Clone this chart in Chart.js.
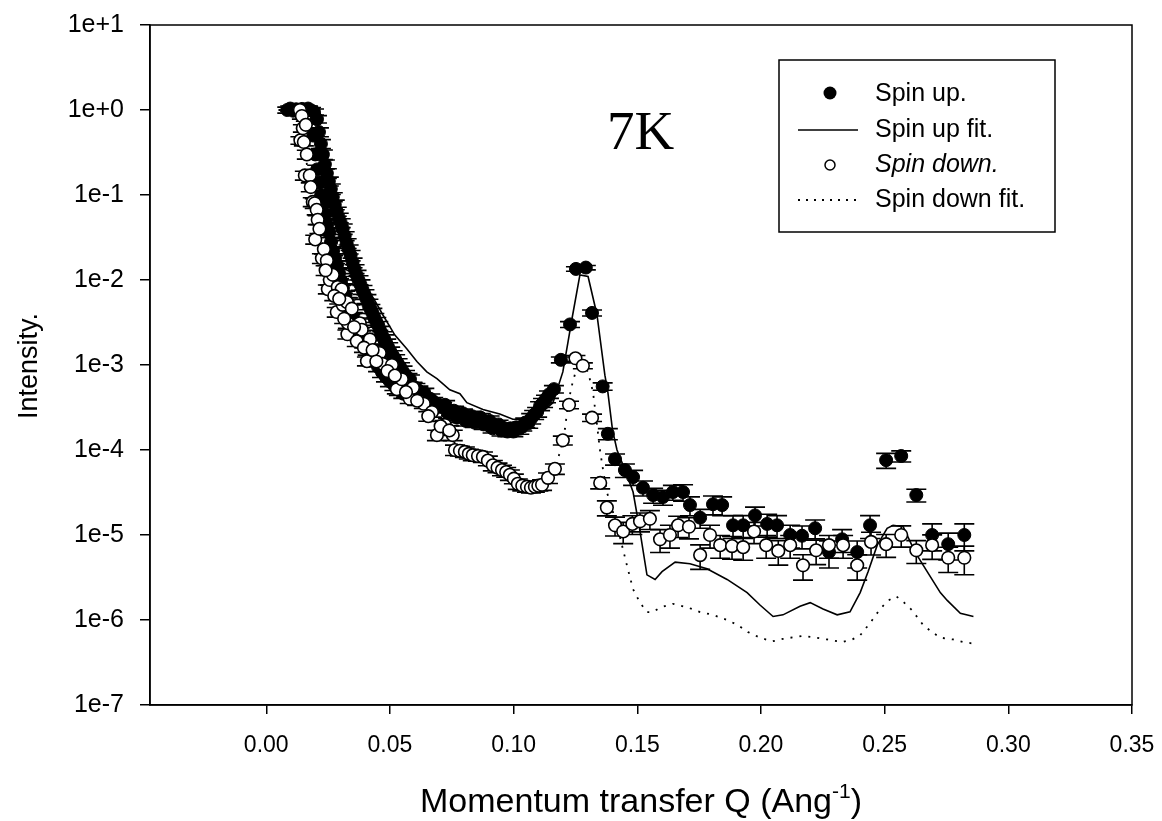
<!DOCTYPE html>
<html>
<head>
<meta charset="utf-8">
<script src="https://cdn.jsdelivr.net/npm/chart.js@4.4.1/dist/chart.umd.min.js"></script>
<style>
  html, body { margin: 0; padding: 0; background: #fff; }
  #wrap { width: 1162px; height: 821px; }
</style>
</head>
<body>
<div id="wrap"><canvas id="reflChart" width="1162" height="821"></canvas></div>
<script>
// axis ticks
const xTicks = [0, 0.05, 0.10, 0.15, 0.20, 0.25, 0.30, 0.35];
const yTicks = [1e1, 1e0, 1e-1, 1e-2, 1e-3, 1e-4, 1e-5, 1e-6, 1e-7];

// Spin up (filled circles): Q, intensity, relative error
const upQ = [
  0.0085, 0.0097, 0.0109, 0.0121, 0.0133, 0.0145, 0.0157, 0.0169, 0.0181, 0.0193,
  0.0205, 0.0213, 0.0221, 0.0229, 0.0237, 0.0245, 0.0253, 0.0261, 0.0269, 0.0277,
  0.0285, 0.0293, 0.0301, 0.0309, 0.0317, 0.0325, 0.0333, 0.0341, 0.0349, 0.0357,
  0.0365, 0.0373, 0.0381, 0.0389, 0.0397, 0.0405, 0.0413, 0.0421, 0.0429, 0.0437,
  0.0445, 0.0453, 0.0461, 0.0469, 0.0477, 0.0485, 0.0493, 0.0501, 0.0511, 0.0521,
  0.0531, 0.0541, 0.0551, 0.0561, 0.0571, 0.0581, 0.0591, 0.0603, 0.0615, 0.0627,
  0.0639, 0.0651, 0.0663, 0.0675, 0.0687, 0.0699, 0.0711, 0.0723, 0.0735, 0.0747,
  0.0759, 0.0771, 0.0783, 0.0795, 0.0807, 0.0819, 0.0831, 0.0843, 0.0855, 0.0867,
  0.0879, 0.0891, 0.0903, 0.0915, 0.0927, 0.0939, 0.0951, 0.0963, 0.0975, 0.0987,
  0.0999, 0.1011, 0.1023, 0.1035, 0.1047, 0.1059, 0.1071, 0.1083, 0.1095, 0.1107,
  0.1119, 0.1131, 0.1143, 0.1163, 0.1191, 0.1228, 0.1252, 0.1292, 0.1317, 0.1360,
  0.1381, 0.1410, 0.1450, 0.1483, 0.1523, 0.1564, 0.1604, 0.1644, 0.1685, 0.1713,
  0.1754, 0.1806, 0.1843, 0.1887, 0.1928, 0.1976, 0.2025, 0.2065, 0.2118, 0.2166,
  0.2219, 0.2275, 0.2328, 0.2389, 0.2441, 0.2506, 0.2567, 0.2628, 0.2692, 0.2757,
  0.2822,
  // left part of the dense band
  0.0190, 0.0198, 0.0206, 0.0214, 0.0222, 0.0230, 0.0238, 0.0246, 0.0254, 0.0262,
  0.0270, 0.0278, 0.0286, 0.0294, 0.0302, 0.0310, 0.0320, 0.0330, 0.0340, 0.0350,
  0.0360, 0.0372, 0.0384, 0.0396, 0.0410, 0.0424, 0.0438, 0.0452, 0.0468, 0.0484,
  0.0500, 0.0518, 0.0536, 0.0554
];
const upI = [
  1.00, 1.04, 0.98, 1.02, 0.97, 1.03, 1.00, 1.04, 0.99, 0.95,
  0.78, 0.55, 0.40, 0.30, 0.23, 0.18, 0.145, 0.118, 0.095, 0.077,
  0.064, 0.054, 0.047, 0.040, 0.033, 0.027, 0.023, 0.0195, 0.016, 0.0135,
  0.0115, 0.0100, 0.0088, 0.0077, 0.0068, 0.0060, 0.0052, 0.0046, 0.0041, 0.0036,
  0.0032, 0.0029, 0.0025, 0.0022, 0.0020, 0.0018, 0.0016, 0.00145, 0.0013, 0.00118,
  0.00105, 0.00095, 0.00085, 0.00077, 0.00070, 0.00068, 0.00055, 0.00054, 0.00050, 0.00047,
  0.00047, 0.00038, 0.00040, 0.00037, 0.00032, 0.00034, 0.00032, 0.00034, 0.00027, 0.00029,
  0.00029, 0.00024, 0.00026, 0.00027, 0.00022, 0.00024, 0.00025, 0.00021, 0.00022, 0.00024,
  0.00020, 0.00021, 0.00022, 0.00018, 0.00019, 0.00020, 0.00017, 0.00018, 0.000165, 0.00018,
  0.000165, 0.000185, 0.000178, 0.00019, 0.00021, 0.000205, 0.000235, 0.00026, 0.00028, 0.00033,
  0.00036, 0.00040, 0.00045, 0.00052, 0.00115, 0.0030, 0.0135, 0.0140, 0.0041, 0.00056,
  0.000155, 7.8e-5, 5.8e-5, 4.8e-5, 3.6e-5, 2.95e-5, 2.8e-5, 3.2e-5, 3.2e-5, 2.25e-5,
  1.6e-5, 2.3e-5, 2.25e-5, 1.3e-5, 1.3e-5, 1.7e-5, 1.35e-5, 1.3e-5, 1.0e-5, 9.8e-6,
  1.2e-5, 6.3e-6, 8.9e-6, 6.3e-6, 1.3e-5, 7.6e-5, 8.5e-5, 2.95e-5, 1.0e-5, 7.8e-6,
  1.0e-5,
  0.50, 0.30, 0.20, 0.14, 0.10, 0.075, 0.058, 0.045, 0.036, 0.028,
  0.022, 0.018, 0.015, 0.012, 0.0098, 0.0080, 0.0066, 0.0054, 0.0045, 0.0037,
  0.0031, 0.0026, 0.0022, 0.0018, 0.0015, 0.0013, 0.0011, 0.00095, 0.00082, 0.00072,
  0.00064, 0.00057, 0.00051, 0.00046
];
const upErr = [
  0.08, 0.07, 0.08, 0.06, 0.08, 0.07, 0.08, 0.07, 0.08, 0.08,
  0.10, 0.12, 0.12, 0.13, 0.12, 0.13, 0.12, 0.14, 0.12, 0.13,
  0.12, 0.13, 0.12, 0.14, 0.12, 0.13, 0.12, 0.14, 0.13, 0.12,
  0.13, 0.12, 0.14, 0.12, 0.13, 0.12, 0.14, 0.12, 0.13, 0.12,
  0.13, 0.12, 0.14, 0.12, 0.13, 0.12, 0.14, 0.12, 0.13, 0.12,
  0.13, 0.12, 0.14, 0.12, 0.13, 0.12, 0.14, 0.12, 0.13, 0.12,
  0.13, 0.12, 0.14, 0.12, 0.13, 0.12, 0.14, 0.12, 0.13, 0.12,
  0.13, 0.12, 0.14, 0.12, 0.13, 0.12, 0.14, 0.12, 0.13, 0.12,
  0.13, 0.12, 0.14, 0.12, 0.13, 0.12, 0.14, 0.12, 0.13, 0.12,
  0.13, 0.12, 0.14, 0.12, 0.13, 0.12, 0.14, 0.12, 0.13, 0.12,
  0.12, 0.10, 0.10, 0.10, 0.08, 0.08, 0.06, 0.06, 0.08, 0.10,
  0.15, 0.15, 0.18, 0.20, 0.20, 0.20, 0.20, 0.20, 0.22, 0.25,
  0.25, 0.25, 0.25, 0.30, 0.30, 0.25, 0.30, 0.30, 0.30, 0.30,
  0.25, 0.35, 0.30, 0.35, 0.30, 0.20, 0.15, 0.17, 0.35, 0.35,
  0.35,
  0.10, 0.12, 0.12, 0.13, 0.12, 0.13, 0.12, 0.14, 0.12, 0.13,
  0.12, 0.13, 0.12, 0.14, 0.12, 0.13, 0.12, 0.14, 0.13, 0.12,
  0.13, 0.12, 0.14, 0.12, 0.13, 0.12, 0.14, 0.12, 0.13, 0.12,
  0.13, 0.12, 0.14, 0.12
];

// Spin down (open circles)
const downQ = [
  0.0136, 0.0138, 0.0144, 0.0148, 0.0152, 0.0156, 0.0160, 0.0164, 0.0176, 0.0180,
  0.0188, 0.0196, 0.0198, 0.0204, 0.0208, 0.0225, 0.0233, 0.0245, 0.0249, 0.0257,
  0.0269, 0.0285, 0.0289, 0.0305, 0.0309, 0.0326, 0.0328, 0.0330, 0.0346, 0.0366,
  0.0378, 0.0386, 0.0407, 0.0415, 0.0419, 0.0459, 0.0471, 0.0508, 0.0528, 0.0548,
  0.0580, 0.0593, 0.0637, 0.0670, 0.0690, 0.0722, 0.0754, 0.0763, 0.0783, 0.0803,
  0.0819, 0.0835, 0.0856, 0.0876, 0.0896, 0.0916, 0.0935, 0.0953, 0.0970, 0.0985,
  0.1001, 0.1017, 0.1035, 0.1054, 0.1070, 0.1086, 0.1100, 0.1115, 0.1139, 0.1167,
  0.1199, 0.1224, 0.1250, 0.1280, 0.1317, 0.1350, 0.1377, 0.1410, 0.1443, 0.1480,
  0.1511, 0.1551, 0.1592, 0.1632, 0.1665, 0.1709, 0.1754, 0.1794, 0.1835, 0.1883,
  0.1928, 0.1972, 0.2021, 0.2070, 0.2118, 0.2170, 0.2223, 0.2275, 0.2332, 0.2389,
  0.2445, 0.2506, 0.2567, 0.2628, 0.2692, 0.2757, 0.2822,
  // more circles in the low-Q band
  0.0215, 0.0240, 0.0275, 0.0295, 0.0315, 0.0355, 0.0395, 0.0430, 0.0445, 0.0490,
  0.0520, 0.0565, 0.0610, 0.0655, 0.0705, 0.0740
];
const downI = [
  1.00, 0.44, 0.85, 0.61, 0.42, 0.17, 0.67, 0.30, 0.17, 0.124,
  0.083, 0.080, 0.030, 0.067, 0.051, 0.018, 0.023, 0.017, 0.0078, 0.010,
  0.0115, 0.0042, 0.0083, 0.0078, 0.0051, 0.0055, 0.0023, 0.0031, 0.0046, 0.0019,
  0.0031, 0.0026, 0.00111, 0.00197, 0.0020, 0.00138, 0.00103, 0.0010, 0.00052, 0.00068,
  0.00040, 0.00054, 0.00035, 0.00028, 0.00015, 0.000197, 0.00015, 1.0e-4, 9.8e-5, 9.5e-5,
  9.0e-5, 8.7e-5, 8.5e-5, 8.3e-5, 7.5e-5, 6.6e-5, 6.2e-5, 5.8e-5, 5.5e-5, 5.1e-5,
  4.6e-5, 4.0e-5, 3.8e-5, 3.7e-5, 3.6e-5, 3.7e-5, 3.8e-5, 3.9e-5, 4.7e-5, 6.0e-5,
  1.3e-4, 3.4e-4, 1.2e-3, 9.8e-4, 2.4e-4, 4.1e-5, 2.1e-5, 1.3e-5, 1.1e-5, 1.35e-5,
  1.45e-5, 1.55e-5, 8.9e-6, 1.0e-5, 1.3e-5, 1.25e-5, 5.8e-6, 1.0e-5, 7.6e-6, 7.4e-6,
  7.2e-6, 1.1e-5, 7.6e-6, 6.5e-6, 7.6e-6, 4.4e-6, 6.6e-6, 7.6e-6, 7.6e-6, 4.4e-6,
  8.3e-6, 7.8e-6, 1.0e-5, 6.6e-6, 7.6e-6, 5.4e-6, 5.4e-6,
  0.040, 0.013, 0.0065, 0.0060, 0.0035, 0.0028, 0.0016, 0.0015, 0.0011, 0.00085,
  0.00075, 0.00048, 0.00038, 0.00025, 0.00019, 0.00017
];
const downErr = [
  0.08, 0.10, 0.08, 0.10, 0.10, 0.12, 0.10, 0.12, 0.12, 0.12,
  0.12, 0.13, 0.12, 0.13, 0.12, 0.13, 0.12, 0.13, 0.12, 0.13,
  0.12, 0.13, 0.12, 0.13, 0.12, 0.13, 0.12, 0.13, 0.12, 0.13,
  0.12, 0.13, 0.12, 0.13, 0.12, 0.13, 0.12, 0.13, 0.12, 0.13,
  0.12, 0.13, 0.12, 0.13, 0.14, 0.13, 0.14, 0.14, 0.13, 0.14,
  0.13, 0.14, 0.13, 0.14, 0.13, 0.14, 0.13, 0.14, 0.13, 0.14,
  0.13, 0.14, 0.13, 0.14, 0.13, 0.14, 0.13, 0.14, 0.14, 0.14,
  0.12, 0.10, 0.08, 0.08, 0.10, 0.15, 0.20, 0.25, 0.28, 0.25,
  0.25, 0.25, 0.30, 0.30, 0.28, 0.28, 0.32, 0.30, 0.30, 0.30,
  0.30, 0.28, 0.30, 0.32, 0.30, 0.33, 0.32, 0.30, 0.30, 0.33,
  0.30, 0.30, 0.28, 0.30, 0.32, 0.33, 0.37,
  0.12, 0.13, 0.12, 0.13, 0.12, 0.13, 0.12, 0.13, 0.12, 0.13,
  0.12, 0.13, 0.12, 0.13, 0.14, 0.13
];

// Spin up fit (solid line)
const upFitQ = [
  0.0050, 0.0100, 0.0150, 0.0190, 0.0205, 0.0220, 0.0240, 0.0260, 0.0280, 0.0300,
  0.0320, 0.0340, 0.0360, 0.0380, 0.0400, 0.0435, 0.0471, 0.0520, 0.0568, 0.0609,
  0.0649, 0.0690, 0.0742, 0.0783, 0.0811, 0.0876, 0.0944, 0.0997, 0.1038, 0.1106,
  0.1159, 0.1199, 0.1220, 0.1236, 0.1268, 0.1301, 0.1337, 0.1369, 0.1381, 0.1400,
  0.1418, 0.1458, 0.1483, 0.1511, 0.1539, 0.1572, 0.1600, 0.1653, 0.1713, 0.1782,
  0.1863, 0.1944, 0.1996, 0.2049, 0.2089, 0.2158, 0.2199, 0.2251, 0.2308, 0.2360,
  0.2401, 0.2433, 0.2470, 0.2510, 0.2534, 0.2575, 0.2623, 0.2672, 0.2725, 0.2753,
  0.2806, 0.2859
];
const upFitI = [
  1.0, 1.0, 1.0, 0.95, 0.75, 0.40, 0.22, 0.12, 0.075, 0.048,
  0.031, 0.021, 0.014, 0.0105, 0.0085, 0.0060, 0.0039, 0.00225, 0.00155, 0.0011,
  8.3e-4, 6.9e-4, 5.1e-4, 4.6e-4, 3.6e-4, 3.0e-4, 2.65e-4, 2.3e-4, 2.3e-4, 2.65e-4,
  3.6e-4, 8.3e-4, 1.87e-3, 3.5e-3, 1.15e-2, 1.1e-2, 3.9e-3, 7.6e-4, 4.8e-4, 1.7e-4,
  1.0e-4, 5.1e-5, 3.2e-5, 1.1e-5, 3.4e-6, 3.0e-6, 3.7e-6, 4.8e-6, 4.6e-6, 4.0e-6,
  3.0e-6, 2.1e-6, 1.5e-6, 1.1e-6, 1.15e-6, 1.45e-6, 1.6e-6, 1.35e-6, 1.15e-6, 1.25e-6,
  2.1e-6, 3.7e-6, 7.6e-6, 1.2e-5, 1.3e-5, 1.25e-5, 6.3e-6, 3.7e-6, 2.1e-6, 1.7e-6,
  1.2e-6, 1.1e-6
];

// Spin down fit (dotted line)
const downFitQ = [
  0.0050, 0.0120, 0.0140, 0.0150, 0.0165, 0.0180, 0.0200, 0.0225, 0.0250, 0.0280,
  0.0310, 0.0340, 0.0370, 0.0400, 0.0450, 0.0500, 0.0550, 0.0600, 0.0650, 0.0700,
  0.0750, 0.0800, 0.0850, 0.0900, 0.0950, 0.1000, 0.1050, 0.1100, 0.1140, 0.1170,
  0.1190, 0.1208, 0.1220, 0.1236, 0.1248, 0.1268, 0.1301, 0.1321, 0.1337, 0.1349,
  0.1361, 0.1377, 0.1418, 0.1438, 0.1458, 0.1483, 0.1511, 0.1539, 0.1563, 0.1592,
  0.1644, 0.1705, 0.1754, 0.1806, 0.1863, 0.1907, 0.1948, 0.1996, 0.2045, 0.2089,
  0.2138, 0.2171, 0.2207, 0.2268, 0.2328, 0.2369, 0.2401, 0.2441, 0.2482, 0.2515,
  0.2547, 0.2579, 0.2611, 0.2656, 0.2692, 0.2725, 0.2777, 0.2818, 0.2855
];
const downFitI = [
  1.0, 1.0, 0.8, 0.45, 0.22, 0.11, 0.06, 0.028, 0.015, 0.0085,
  0.0055, 0.0036, 0.0025, 0.0018, 0.0012, 8.5e-4, 5.8e-4, 4.0e-4, 2.8e-4, 1.9e-4,
  1.3e-4, 9.5e-5, 8.2e-5, 7.0e-5, 5.7e-5, 4.6e-5, 3.9e-5, 3.7e-5, 4.5e-5, 6.5e-5,
  1.0e-4, 1.8e-4, 3.5e-4, 5.8e-4, 7.8e-4, 1.1e-3, 8.3e-4, 4.8e-4, 2.0e-4, 1.0e-4,
  6.0e-5, 3.2e-5, 1.3e-5, 7.6e-6, 4.4e-6, 2.3e-6, 1.6e-6, 1.24e-6, 1.24e-6, 1.4e-6,
  1.55e-6, 1.4e-6, 1.24e-6, 1.15e-6, 1.0e-6, 8.7e-7, 7.2e-7, 6.2e-7, 5.6e-7, 6.0e-7,
  6.3e-7, 6.5e-7, 6.3e-7, 5.9e-7, 5.5e-7, 5.9e-7, 6.6e-7, 9.2e-7, 1.35e-6, 1.7e-6,
  1.9e-6, 1.6e-6, 1.3e-6, 8.7e-7, 7.2e-7, 6.2e-7, 5.9e-7, 5.5e-7, 5.3e-7
];

const pairs = (qs, is) => qs.map((q, i) => ({ x: q, y: is[i] }));

const FONT = "Arial, 'Liberation Sans', sans-serif";
Chart.defaults.font.family = FONT;
Chart.defaults.color = "#000";

// error bars, drawn just before the dataset's own markers
const errorBars = {
  id: "errorBars",
  beforeDatasetDraw(chart, args) {
    const ds = chart.data.datasets[args.index];
    if (!ds.errFrac) return;
    const { ctx } = chart;
    const xs = chart.scales.x;
    const ys = chart.scales.y;
    ctx.save();
    ctx.strokeStyle = "#000";
    ctx.lineWidth = 1.6;
    ds.data.forEach((p, i) => {
      const f = ds.errFrac[i];
      if (f === undefined) return;
      const px = xs.getPixelForValue(p.x);
      const top = ys.getPixelForValue(p.y * (1 + f));
      const bot = ys.getPixelForValue(p.y * (1 - f));
      ctx.beginPath();
      ctx.moveTo(px, top);
      ctx.lineTo(px, bot);
      ctx.moveTo(px - 10, top);
      ctx.lineTo(px + 10, top);
      ctx.moveTo(px - 10, bot);
      ctx.lineTo(px + 10, bot);
      ctx.stroke();
    });
    ctx.restore();
  },
};

// frame, "7K", legend box and axis titles
const decorations = {
  id: "decorations",
  afterDraw(chart) {
    const { ctx, chartArea: a } = chart;
    ctx.save();
    ctx.strokeStyle = "#000";
    ctx.lineWidth = 1.5;
    ctx.strokeRect(a.left, a.top, a.right - a.left, a.bottom - a.top);

    ctx.fillStyle = "#000";
    ctx.textBaseline = "alphabetic";
    ctx.font = "55px 'Liberation Serif', 'Times New Roman', serif";
    ctx.fillText("7K", 607, 149);

    // legend
    ctx.fillStyle = "#fff";
    ctx.fillRect(779, 60, 276, 172);
    ctx.lineWidth = 1.5;
    ctx.strokeRect(779, 60, 276, 172);
    ctx.fillStyle = "#000";
    ctx.beginPath();
    ctx.arc(830, 93, 6.5, 0, Math.PI * 2);
    ctx.fill();
    ctx.beginPath();
    ctx.moveTo(798, 130);
    ctx.lineTo(858, 130);
    ctx.lineWidth = 1.6;
    ctx.stroke();
    ctx.beginPath();
    ctx.arc(830, 165, 5, 0, Math.PI * 2);
    ctx.fillStyle = "#fff";
    ctx.fill();
    ctx.lineWidth = 1.5;
    ctx.stroke();
    ctx.setLineDash([2, 6]);
    ctx.lineWidth = 1.8;
    ctx.beginPath();
    ctx.moveTo(798, 200);
    ctx.lineTo(858, 200);
    ctx.stroke();
    ctx.setLineDash([]);

    ctx.fillStyle = "#000";
    ctx.textBaseline = "middle";
    ctx.font = "25px " + FONT;
    ctx.fillText("Spin up.", 875, 94);
    ctx.fillText("Spin up fit.", 875, 130);
    ctx.font = "italic 25px " + FONT;
    ctx.fillText("Spin down.", 875, 165);
    ctx.font = "25px " + FONT;
    ctx.fillText("Spin down fit.", 875, 200);

    // y title
    ctx.save();
    ctx.translate(30, 366);
    ctx.rotate(-Math.PI / 2);
    ctx.textAlign = "center";
    ctx.font = "27px " + FONT;
    ctx.fillText("Intensity.", 0, 0);
    ctx.restore();

    // x title with superscript
    const main = "Momentum transfer Q (Ang";
    const sup = "-1";
    const tail = ")";
    ctx.textBaseline = "alphabetic";
    ctx.font = "34px " + FONT;
    const w1 = ctx.measureText(main).width;
    const w3 = ctx.measureText(tail).width;
    ctx.font = "21px " + FONT;
    const w2 = ctx.measureText(sup).width;
    const x0 = 641 - (w1 + w2 + w3) / 2;
    const base = 812;
    ctx.font = "34px " + FONT;
    ctx.fillText(main, x0, base);
    ctx.font = "21px " + FONT;
    ctx.fillText(sup, x0 + w1, base - 14);
    ctx.font = "34px " + FONT;
    ctx.fillText(tail, x0 + w1 + w2, base);
    ctx.restore();
  },
};

const ctx = document.getElementById("reflChart");
new Chart(ctx, {
  type: "scatter",
  data: {
    datasets: [
      {
        label: "Spin down.",
        data: pairs(downQ, downI),
        errFrac: downErr,
        pointRadius: 6.3,
        pointBackgroundColor: "#fff",
        pointBorderColor: "#000",
        pointBorderWidth: 1.6,
        order: 0,
      },
      {
        label: "Spin up.",
        data: pairs(upQ, upI),
        errFrac: upErr,
        pointRadius: 6.5,
        pointBackgroundColor: "#000",
        pointBorderColor: "#000",
        pointBorderWidth: 1,
        order: 1,
      },
      {
        label: "Spin up fit.",
        data: pairs(upFitQ, upFitI),
        showLine: true,
        pointRadius: 0,
        borderColor: "#000",
        borderWidth: 1.6,
        tension: 0,
        order: 2,
      },
      {
        label: "Spin down fit.",
        data: pairs(downFitQ, downFitI),
        showLine: true,
        pointRadius: 0,
        borderColor: "#000",
        borderWidth: 1.8,
        borderDash: [2, 7],
        tension: 0,
        order: 3,
      },
    ],
  },
  options: {
    responsive: false,
    animation: false,
    devicePixelRatio: 1,
    layout: { padding: { left: 0, right: 30, top: 25, bottom: 0 } },
    plugins: {
      legend: { display: false },
      tooltip: { enabled: false },
    },
    scales: {
      x: {
        type: "linear",
        min: -0.047,
        max: 0.35,
        afterBuildTicks: (scale) => {
          scale.ticks = xTicks.map((v) => ({ value: v }));
        },
        afterFit: (scale) => {
          scale.height = 116;
          scale.paddingLeft = 0;
          scale.paddingRight = 0;
        },
        ticks: {
          font: { size: 23 },
          color: "#000",
          padding: 18,
          maxRotation: 0,
          callback: (v) => Number(v).toFixed(2),
        },
        grid: {
          drawOnChartArea: false,
          drawTicks: true,
          tickLength: 9,
          color: "#000",
          lineWidth: 1.5,
        },
        border: { display: true, color: "#000", width: 1.5 },
      },
      y: {
        type: "logarithmic",
        min: 1e-7,
        max: 1e1,
        afterBuildTicks: (scale) => {
          scale.ticks = yTicks.map((v) => ({ value: v }));
        },
        afterFit: (scale) => {
          scale.width = 150;
          scale.paddingTop = 0;
          scale.paddingBottom = 0;
        },
        ticks: {
          font: { size: 25 },
          color: "#000",
          padding: 16,
          callback: (v) => {
            const k = Math.round(Math.log10(v));
            return k >= 0 ? "1e+" + k : "1e" + k;
          },
        },
        grid: {
          drawOnChartArea: false,
          drawTicks: true,
          tickLength: 10,
          color: "#000",
          lineWidth: 1.5,
        },
        border: { display: true, color: "#000", width: 1.5 },
      },
    },
  },
  plugins: [errorBars, decorations],
});
</script>
</body>
</html>
